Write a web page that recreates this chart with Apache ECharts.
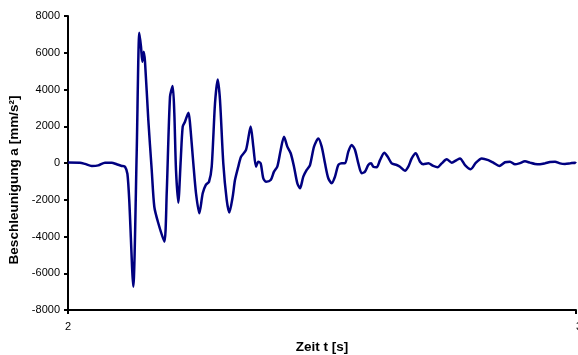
<!DOCTYPE html>
<html>
<head>
<meta charset="utf-8">
<script src="https://cdn.jsdelivr.net/npm/echarts@6/dist/echarts.min.js"></script>
<style>
html,body{margin:0;padding:0;background:#fff;}
#c{width:578px;height:355px;}
</style>
</head>
<body>
<div id="c"></div>
<script>
// Time [s]
var timeS = [2.000,2.0236,2.0335,2.0467,2.0596,2.0728,2.0860,2.0959,2.1057,2.1122,2.1170,2.1207,2.1285,2.1352,2.1404,2.1437,2.1463,2.1490,2.1516,2.1581,2.1648,2.1699,2.1778,2.1896,2.1943,2.2008,2.2061,2.2093,2.2126,2.2171,2.2219,2.2258,2.2303,2.2372,2.2402,2.2467,2.2520,2.2585,2.2652,2.2711,2.2776,2.2829,2.2894,2.2947,2.2992,2.3057,2.3124,2.3175,2.3242,2.3287,2.3352,2.3406,2.3504,2.3596,2.3648,2.3701,2.3746,2.3793,2.3844,2.3898,2.3990,2.4055,2.4120,2.4187,2.4252,2.4317,2.4384,2.4449,2.4514,2.4567,2.4632,2.4699,2.4764,2.4843,2.4927,2.4994,2.5059,2.5124,2.5191,2.5256,2.5321,2.5388,2.5453,2.5518,2.5585,2.5650,2.5715,2.5781,2.5846,2.5911,2.5965,2.6010,2.6077,2.6142,2.6226,2.6293,2.6372,2.6470,2.6535,2.6634,2.6699,2.6766,2.6844,2.6929,2.6994,2.7093,2.7191,2.7278,2.7356,2.7455,2.7553,2.7652,2.7717,2.7815,2.7927,2.8031,2.8144,2.8274,2.8372,2.8490,2.8602,2.8701,2.8799,2.8884,2.8996,2.9094,2.9193,2.9291,2.9390,2.9488,2.9587,2.9685,2.9783,2.9882,2.9980,3.000];
// Acceleration [mm/s²]
var accel = [30,20,-50,-160,-130,20,20,-70,-160,-200,-600,-2100,-6730,530,7090,6330,5510,6060,5510,2340,-380,-2380,-3280,-4280,-1650,3610,4190,2700,-380,-2160,160,1980,2250,2740,2160,-20,-1650,-2740,-1650,-1200,-1020,-200,3250,4550,3430,-20,-2010,-2700,-1830,-930,-200,340,710,1980,890,-200,70,-20,-830,-1020,-930,-470,-200,710,1430,890,530,-200,-1100,-1380,-740,-380,-110,890,1340,890,-20,-830,-1100,-740,-110,-20,-20,620,980,710,-20,-560,-470,-110,-20,-200,-230,160,560,340,-20,-110,-200,-420,-200,250,530,70,-70,-20,-160,-230,-20,200,20,160,250,-110,-340,20,250,160,20,-160,40,70,-70,-20,90,20,-50,-70,-20,50,70,-20,-50,-20,20,-20];
var yTicks = [-8000,-6000,-4000,-2000,0,2000,4000,6000,8000];
var xTicks = [2,3];
var xTitle = 'Zeit t [s]';
var yTitle = 'Beschleunigung a [mm/s²]';

var pts = timeS.map(function(t,i){return [t, accel[i]];});
var font = 'Liberation Sans, Arial, sans-serif';
var chart = echarts.init(document.getElementById('c'), null, {renderer:'canvas'});
chart.setOption({
  animation:false,
  backgroundColor:'#ffffff',
  grid:{left:68,right:2,top:16,bottom:45,containLabel:false,outerBoundsMode:'none'},
  graphic:[{
    type:'text', x:14.5, y:180, rotation:Math.PI/2,
    style:{text:yTitle, fontFamily:font, fontSize:13.5, fontWeight:'bold', fill:'#000', align:'center', verticalAlign:'middle'}
  }],
  xAxis:{
    type:'value', min:xTicks[0], max:xTicks[xTicks.length-1], interval:1,
    name:xTitle, nameLocation:'middle', nameGap:30,
    nameTextStyle:{fontFamily:font,fontSize:13.5,fontWeight:'bold',color:'#000'},
    axisLine:{onZero:false,lineStyle:{color:'#000',width:2}},
    axisTick:{show:true,inside:false,length:4,lineStyle:{color:'#000',width:2}},
    axisLabel:{fontFamily:font,fontSize:11,color:'#000',margin:11,alignMaxLabel:'left',formatter:function(v){return String(v);}},
    splitLine:{show:false}
  },
  yAxis:{
    type:'value', min:yTicks[0], max:yTicks[yTicks.length-1], interval:2000,
    axisLine:{show:true,onZero:false,lineStyle:{color:'#000',width:2}},
    axisTick:{show:true,inside:false,length:4,lineStyle:{color:'#000',width:2}},
    axisLabel:{fontFamily:font,fontSize:11,color:'#000',margin:8,formatter:function(v){return String(v);}},
    splitLine:{show:false}
  },
  series:[{
    type:'line', data:pts, showSymbol:false, smooth:0.25,
    lineStyle:{color:'#000080',width:2.5},
    clip:false
  }]
});
</script>
</body>
</html>
